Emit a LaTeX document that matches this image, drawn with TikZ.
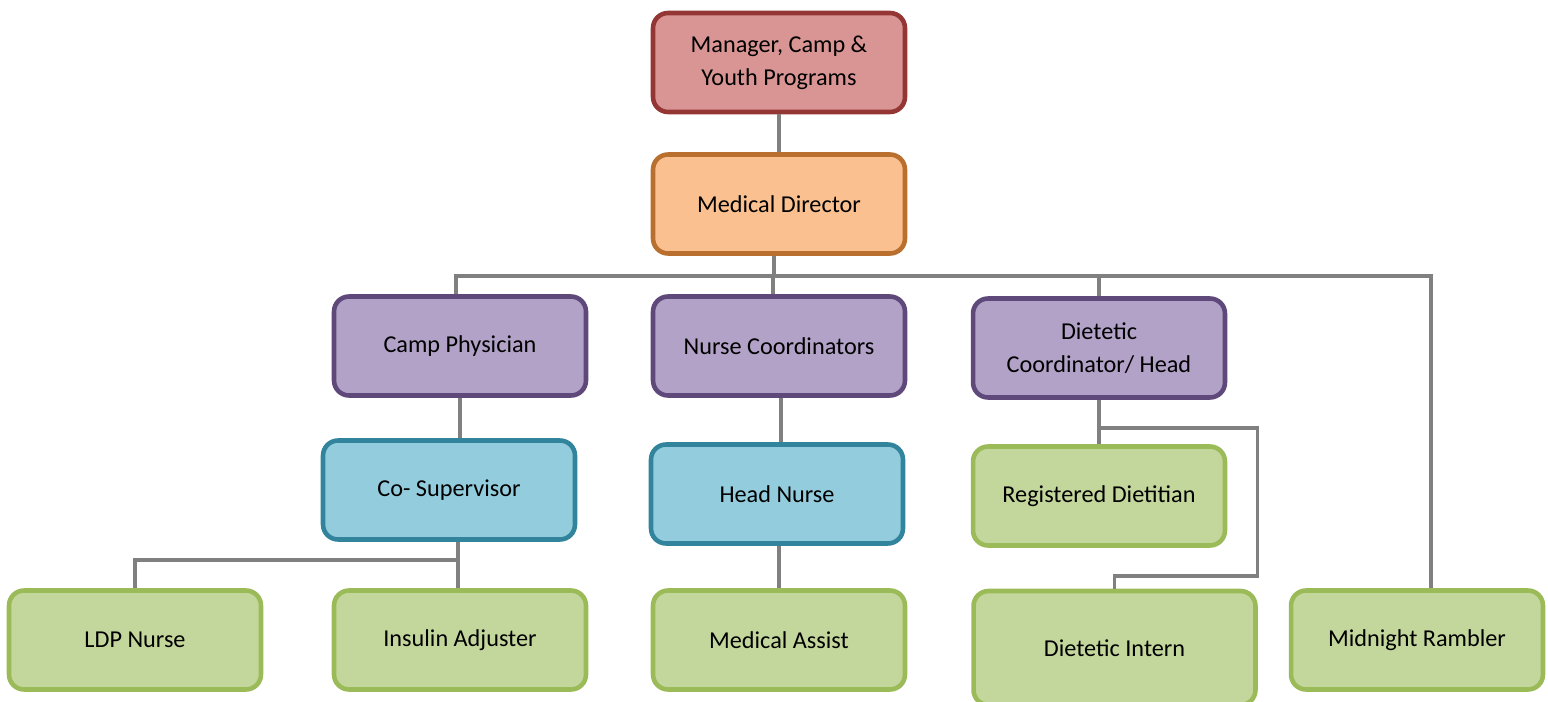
\documentclass[tikz,border=0pt]{standalone}
\usepackage{fontspec}
\setmainfont{Carlito}
\usetikzlibrary{positioning}

\definecolor{mgrfill}{HTML}{D99594}
\definecolor{mgrline}{HTML}{943634}
\definecolor{mdfill}{HTML}{FAC08F}
\definecolor{mdline}{HTML}{B9702F}
\definecolor{purfill}{HTML}{B2A2C7}
\definecolor{purline}{HTML}{5F497A}
\definecolor{bluefill}{HTML}{93CDDD}
\definecolor{blueline}{HTML}{31849B}
\definecolor{grnfill}{HTML}{C3D69B}
\definecolor{grnline}{HTML}{9BBB59}
\definecolor{linkgray}{HTML}{808080}

\begin{document}
\begin{tikzpicture}[
    x=0.02cm, y=-0.02cm,
    box/.style={draw, rectangle, rounded corners=0.3cm, line width=2.6pt,
        minimum width=5.04cm, minimum height=1.98cm, align=center,
        font=\fontsize{13.8}{19}\selectfont},
    redbox/.style={box, fill=mgrfill, draw=mgrline},
    orangebox/.style={box, fill=mdfill, draw=mdline},
    purplebox/.style={box, fill=purfill, draw=purline},
    bluebox/.style={box, fill=bluefill, draw=blueline},
    greenbox/.style={box, fill=grnfill, draw=grnline},
    link/.style={draw=linkgray, line width=1.8pt}
]
\useasboundingbox (0,0) rectangle (1548,702);

% Top levels
\node[redbox] (mgr) at (779,62.5) {Manager, Camp \&\\Youth Programs};
\node[orangebox] (md) at (779,204) {Medical Director};

% Coordinators
\node[purplebox] (cp) at (460,346) {Camp Physician};
\node[purplebox] (nc) at (779,346) {Nurse Coordinators};
\node[purplebox] (dc) at (1099,348) {Dietetic\\Coordinator/ Head};

% Second level
\node[bluebox] (cs) at (449,490) {Co- Supervisor};
\node[bluebox] (hn) at (777,494) {Head Nurse};
\node[greenbox] (rd) at (1099,496) {Registered Dietitian};

% Bottom row
\node[greenbox] (ldp) at (135,640) {LDP Nurse};
\node[greenbox] (ia) at (460,640) {Insulin Adjuster};
\node[greenbox] (ma) at (779,640) {Medical Assist};
\node[greenbox, minimum width=5.64cm, minimum height=2.28cm] (di) at (1114.5,648) {Dietetic Intern};
\node[greenbox] (mr) at (1417,640) {Midnight Rambler};

% Bus lines
\coordinate (bus) at (0,276);
\coordinate (csbus) at (0,560);
\coordinate (dcbus) at (0,428);
\coordinate (dibus) at (0,576);

% Connectors
\draw[link] (mgr) -- (md);
\draw[link] ([xshift=-0.1cm]md.south) -- ([xshift=-0.1cm]md.south |- bus);
\draw[link] ([xshift=-0.08cm]cp.north) -- ([xshift=-0.08cm]cp.north |- bus)
    -- ([xshift=0.28cm]mr.north |- bus) -- ([xshift=0.28cm]mr.north);
\draw[link] ([xshift=-0.12cm]nc.north) -- ([xshift=-0.12cm]nc.north |- bus);
\draw[link] (dc.north) -- (dc.north |- bus);

\draw[link] (cp) -- (cp |- cs.north);
\draw[link] ([xshift=-0.04cm]ia.north) -- ([xshift=-0.04cm]ia.north |- cs.south);
\draw[link] (ldp.north) -- (ldp.north |- csbus) -- ([xshift=-0.04cm]ia.north |- csbus);

\draw[link] ([xshift=0.04cm]nc.south) -- ([xshift=0.04cm]nc.south |- hn.north);
\draw[link] ([xshift=0.04cm]hn.south) -- ([xshift=0.04cm]hn.south |- ma.north);

\draw[link] (dc) -- (dc |- rd.north);
\draw[link] (dc.south |- dcbus) -- (di.north east |- dcbus)
    -- (di.north east |- dibus) -- (di.north |- dibus) -- (di.north);
\end{tikzpicture}
\end{document}
